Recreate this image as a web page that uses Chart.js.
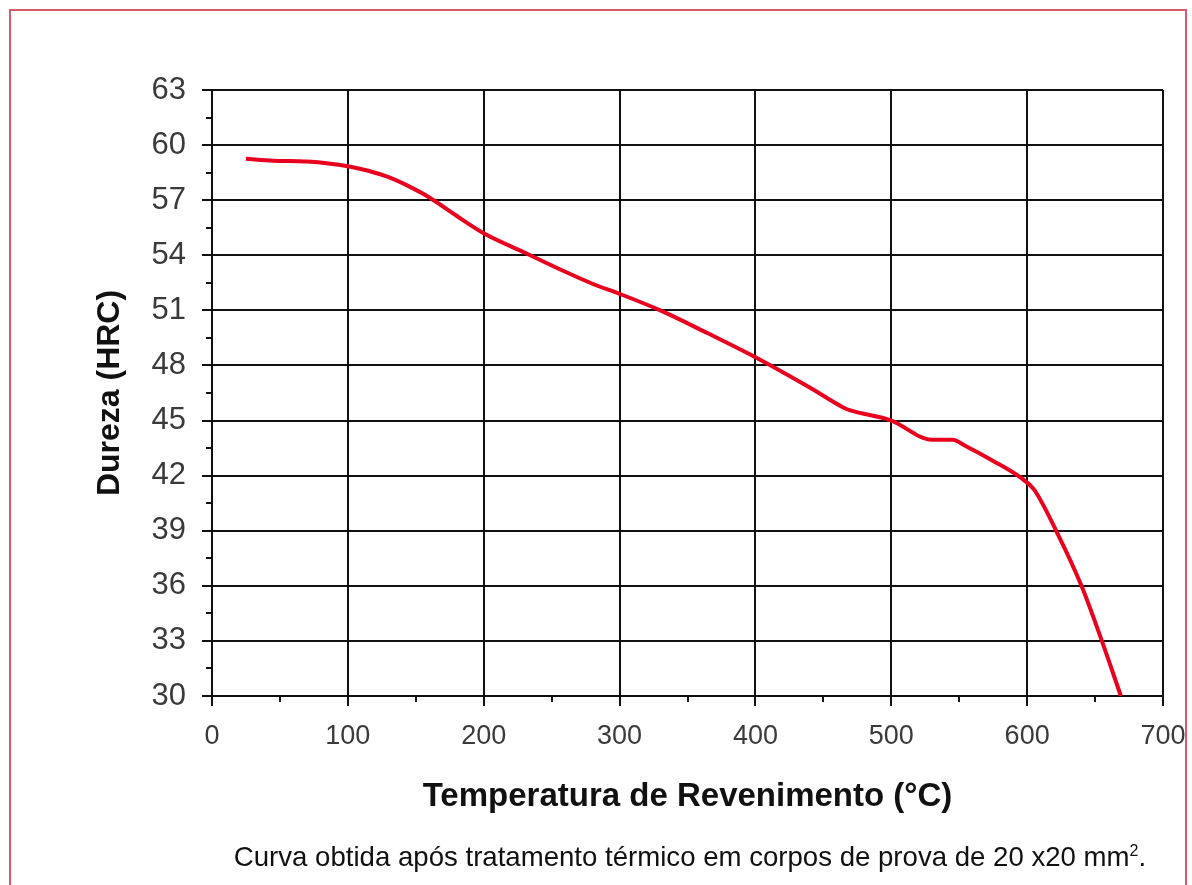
<html>
    <head>
        <meta charset="utf-8">
        <script src="https://cdn.jsdelivr.net/npm/chart.js@4.4.0/dist/chart.umd.min.js"></script>
        <style>
            body {
                margin: 0px;
                background: #ffffff;
                overflow: hidden;
            }

            #frame {
                position: absolute;
                left: 9px;
                top: 9px;
                width: 1178px;
                height: 900px;
                border: 2px solid #d85a6c;
                box-sizing: border-box;
            }

            #wrap {
                position: absolute;
                left: 0px;
                top: 0px;
                width: 1192px;
                height: 885px;
            }

            #caption {
                position: absolute;
                left: 0px;
                width: 1380px;
                top: 841px;
                text-align: center;
                font-family: 'Liberation Sans', Arial, sans-serif;
                font-size: 27.6px;
                color: #111;
            }

            #caption sup {
                font-size: 16px;
            }
        </style>
    </head>

    <body>
        <div id="frame"></div>
        <div id="wrap">
            <canvas id="chart" width="1192" height="885"></canvas>
        </div>
        <div id="caption">Curva obtida após tratamento térmico em corpos de prova de 20 x20 mm<sup>2</sup>.</div>
        <script>
            // Dureza x temperatura de revenimento
            const temperatures = [25, 45, 70, 100, 115, 130, 145, 160, 180, 200, 230, 260, 280, 300, 330, 365, 400, 440, 465, 470, 500, 530, 545, 555, 575, 595, 605, 622, 640, 655, 669]
            const hardness = [59.25, 59.15, 59.1, 58.85, 58.6, 58.25, 57.75, 57.15, 56.15, 55.2, 54.15, 53.1, 52.45, 51.9, 51.0, 49.75, 48.45, 46.8, 45.7, 45.55, 45.0, 43.95, 43.95, 43.6, 42.8, 41.9, 41.25, 38.9, 36.0, 33.0, 30.0]

            const xMin = 0, xMax = 700, xStep = 100
            const yMin = 30, yMax = 63, yStep = 3
            const xMinorTicks = [50, 150, 250, 350, 450, 550, 650]
            const yMinorTicks = [31.5, 34.5, 37.5, 40.5, 43.5, 46.5, 49.5, 52.5, 55.5, 58.5, 61.5]

            const points = temperatures.map((t, i) => ({ x: t, y: hardness[i] }))

            // small ticks between the major ones
            const minorTicks = {
                id: 'minorTicks',
                afterDraw(chart) {
                    const ctx = chart.ctx
                    const xs = chart.scales.x
                    const ys = chart.scales.y
                    const area = chart.chartArea
                    ctx.save()
                    ctx.strokeStyle = '#111'
                    ctx.lineWidth = 2
                    ctx.beginPath()
                    xMinorTicks.forEach((v) => {
                        const px = Math.round(xs.getPixelForValue(v))
                        ctx.moveTo(px, area.bottom)
                        ctx.lineTo(px, area.bottom + 6)
                    })
                    yMinorTicks.forEach((v) => {
                        const py = Math.round(ys.getPixelForValue(v))
                        ctx.moveTo(area.left - 6, py)
                        ctx.lineTo(area.left, py)
                    })
                    ctx.stroke()
                    ctx.restore()
                },
            }

            const gridOpts = {
                color: '#111',
                lineWidth: 2,
                tickLength: 10,
                tickColor: '#111',
                tickWidth: 2,
            }

            const ctx = document.getElementById('chart')
            const chart = new Chart(ctx, {
                type: 'line',
                data: {
                    datasets: [
                        {
                            label: 'Dureza',
                            data: points,
                            borderColor: '#e8001e',
                            borderWidth: 4,
                            pointRadius: 0,
                            cubicInterpolationMode: 'monotone',
                            fill: false,
                        },
                    ],
                },
                options: {
                    responsive: false,
                    animation: false,
                    layout: {
                        padding: { left: 0, top: 90, right: 29, bottom: 0 },
                    },
                    plugins: {
                        legend: { display: false },
                        tooltip: { enabled: false },
                    },
                    scales: {
                        x: {
                            type: 'linear',
                            position: 'bottom',
                            min: xMin,
                            max: xMax,
                            ticks: {
                                stepSize: xStep,
                                maxRotation: 0,
                                color: '#3a3a3a',
                                padding: 14,
                                font: { family: "'Liberation Sans', Arial", size: 27 },
                            },
                            grid: gridOpts,
                            border: { color: '#111', width: 2 },
                            title: {
                                display: true,
                                text: 'Temperatura de Revenimento (°C)',
                                color: '#111',
                                font: { family: "'Liberation Sans', Arial", size: 33, weight: 'bold' },
                                padding: { top: 0, bottom: 68 },
                            },
                            afterFit(scale) {
                                scale.height = 189
                                scale.paddingLeft = 0
                                scale.paddingRight = 0
                            },
                        },
                        y: {
                            type: 'linear',
                            position: 'left',
                            min: yMin,
                            max: yMax,
                            ticks: {
                                stepSize: yStep,
                                color: '#3a3a3a',
                                padding: 16,
                                font: { family: "'Liberation Sans', Arial", size: 31 },
                            },
                            grid: gridOpts,
                            border: { color: '#111', width: 2 },
                            title: {
                                display: true,
                                text: 'Dureza (HRC)',
                                color: '#111',
                                font: { family: "'Liberation Sans', Arial", size: 32, weight: 'bold' },
                                padding: { top: 91, bottom: 0 },
                            },
                            afterFit(scale) {
                                scale.width = 212
                            },
                        },
                    },
                },
                plugins: [minorTicks],
            })
        </script>
    </body>
</html>
